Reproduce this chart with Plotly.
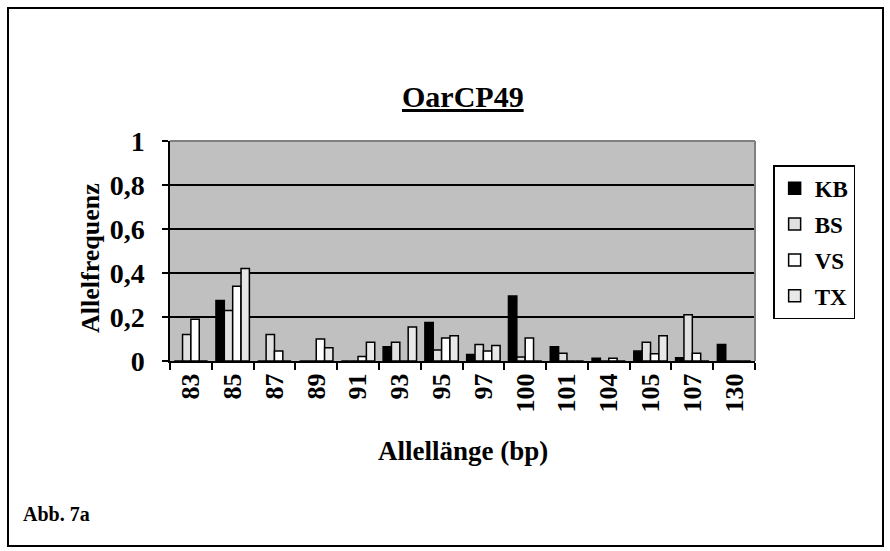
import plotly.graph_objects as go

# Allele lengths (bp) and allele frequencies per breed
alleles = ["83", "85", "87", "89", "91", "93", "95", "97", "100", "101", "104", "105", "107", "130"]
kb = [0, 0.275, 0, 0, 0, 0.065, 0.175, 0.03, 0.295, 0.065, 0.012, 0.045, 0.015, 0.075]
bs = [0.12, 0.23, 0.12, 0, 0, 0.085, 0.05, 0.075, 0.018, 0.035, 0, 0.085, 0.21, 0]
vs = [0.19, 0.34, 0.045, 0.10, 0.02, 0, 0.105, 0.045, 0.105, 0, 0.012, 0.033, 0.035, 0]
tx = [0, 0.42, 0, 0.06, 0.085, 0.155, 0.115, 0.07, 0, 0, 0, 0.115, 0, 0]

series = [("KB", kb, "#000000"), ("BS", bs, "#E0E0E0"), ("VS", vs, "#FFFFFF"), ("TX", tx, "#E8E8E8")]

FONT = "Liberation Serif, Times New Roman, serif"

fig = go.Figure()
for name, vals, color in series:
    fig.add_trace(go.Bar(
        x=alleles, y=vals, name=f"<b>{name}</b>", legendgroup=name,
        marker=dict(color=color, line=dict(color="#000000", width=1.5)),
    ))

fig.update_layout(
    width=890, height=551,
    margin=dict(l=170, r=135, t=141, b=190),
    paper_bgcolor="#FFFFFF", plot_bgcolor="#C0C0C0",
    barmode="group", bargap=0.2, bargroupgap=0,
    font=dict(family=FONT, color="#000000"),
    showlegend=True,
    legend=dict(
        x=1.031, y=0.89, xanchor="left", yanchor="top",
        bgcolor="#FFFFFF", bordercolor="#000000", borderwidth=1.5,
        font=dict(family=FONT, size=23, color="#000000"),
        tracegroupgap=3, itemwidth=30,
    ),
    xaxis=dict(
        type="category", tickson="boundaries", ticks="outside", ticklen=7,
        tickwidth=2, tickcolor="#000000", showline=True, linecolor="#000000",
        linewidth=2, showgrid=False, tickangle=-90,
        tickvals=alleles, ticktext=[f"<b>{a}</b>" for a in alleles],
        tickfont=dict(family=FONT, size=26, color="#000000"),
    ),
    yaxis=dict(
        range=[0, 1], tickvals=[0, 0.2, 0.4, 0.6, 0.8, 1],
        ticktext=["<b>0</b>", "<b>0,2</b>", "<b>0,4</b>", "<b>0,6</b>", "<b>0,8</b>", "<b>1</b>"],
        ticks="outside", ticklen=6, tickwidth=1.5, tickcolor="#000000",
        showline=True, linecolor="#000000", linewidth=1.5,
        showgrid=True, gridcolor="#000000", gridwidth=2, zeroline=False,
        ticklabelstandoff=12,
        tickfont=dict(family=FONT, size=28, color="#000000"),
    ),
    annotations=[
        dict(text="<b><u>OarCP49</u></b>", x=463, y=96, showarrow=False,
             font=dict(family=FONT, size=30)),
        dict(text="<b>Allelfrequenz</b>", textangle=-90, x=90, y=258, showarrow=False,
             font=dict(family=FONT, size=26)),
        dict(text="<b>Allellänge (bp)</b>", x=463, y=451, showarrow=False,
             font=dict(family=FONT, size=27)),
        dict(text="<b>Abb. 7a</b>", x=21, y=514, xanchor="left", showarrow=False,
             font=dict(family=FONT, size=20)),
    ],
)

# convert pixel positions of the annotations into paper fractions
W, H = 890, 551
l, r, t, b = 170, 135, 141, 190
pw, ph = W - l - r, H - t - b
for a in fig.layout.annotations:
    a.x = (a.x - l) / pw
    a.y = (H - b - a.y) / ph
    a.xref = "paper"
    a.yref = "paper"
    if a.xanchor is None:
        a.xanchor = "center"
    a.yanchor = "middle"

# plot-area frame (grey top/right edges) and outer chart border
fig.add_shape(type="line", xref="paper", yref="paper", x0=0, x1=1, y0=1, y1=1,
              line=dict(color="#808080", width=2), layer="above")
fig.add_shape(type="line", xref="paper", yref="paper", x0=1, x1=1, y0=0, y1=1,
              line=dict(color="#808080", width=2), layer="above")
fig.add_shape(type="rect", xref="paper", yref="paper",
              x0=(8 - l) / pw, x1=(883 - l) / pw,
              y0=(H - b - 546) / ph, y1=(H - b - 8) / ph,
              line=dict(color="#000000", width=2), layer="above")

fig.write_html("out.html")
